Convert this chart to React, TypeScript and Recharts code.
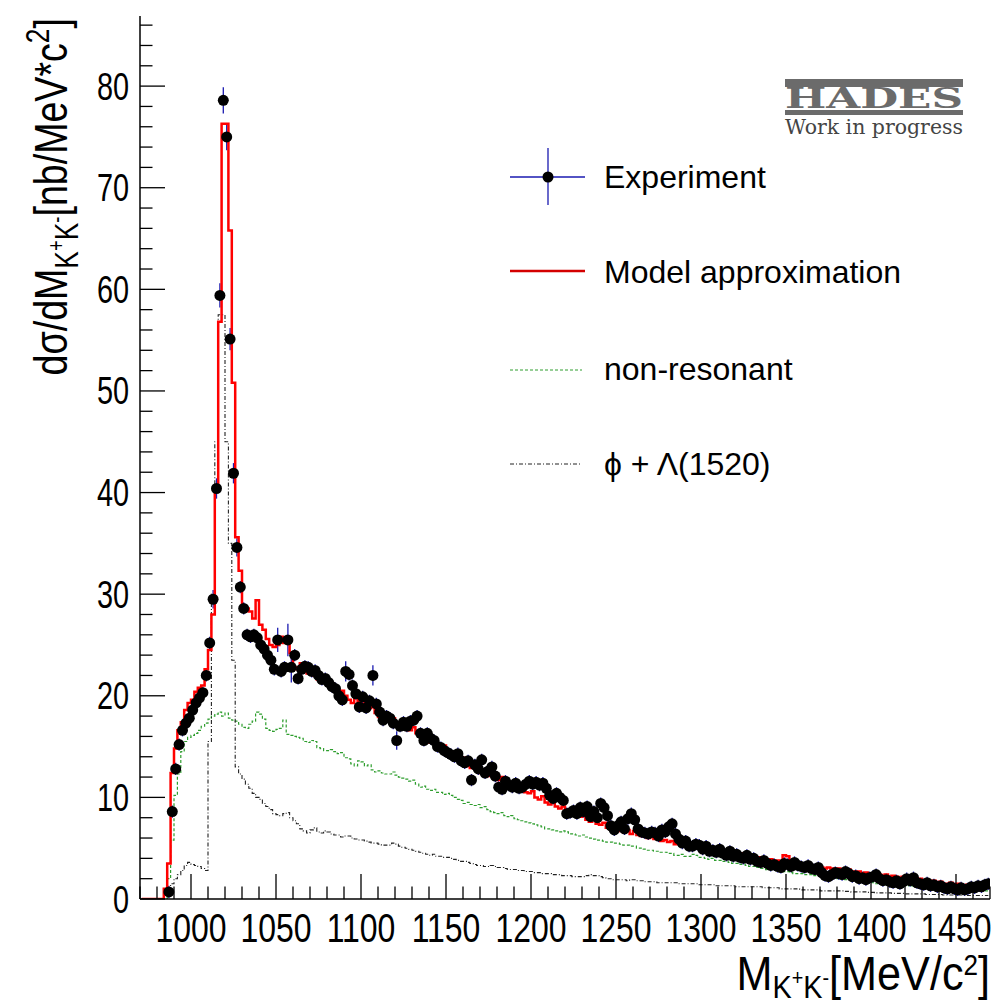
import React from 'react';
import { ComposedChart, Line, Scatter, XAxis, YAxis, ErrorBar } from 'recharts';

// Histogram binning: 2 MeV/c^2 bins from 970 to 1470
const BIN_LOW = 970;
const BIN_WIDTH = 2;

// Model approximation (red), bin centres 971, 973, ... 1469 (5 bins per row)
const modelValues = [
  0, 0, 0, 0, 0,
  0, 0, 1.0, 3.5, 12.4,
  14.8, 16.6, 17.4, 18.6, 19.3,
  19.6, 20.4, 20.8, 21.0, 22.6,
  24.5, 28.0, 40.2, 56.8, 76.3,
  76.3, 65.8, 50.8, 35.6, 32.3,
  28.9, 28.6, 28.3, 27.6, 29.4,
  27.0, 26.5, 25.6, 25.0, 24.8,
  25.0, 25.8, 25.2, 25.7, 24.2,
  22.8, 22.6, 23.2, 22.4, 22.2,
  22.8, 22.0, 21.6, 21.9, 21.3,
  21.0, 21.2, 20.6, 20.2, 20.5,
  20.0, 19.6, 19.3, 19.8, 19.4,
  19.0, 19.3, 18.8, 18.9, 18.3,
  17.9, 18.2, 17.8, 17.5, 17.8,
  17.4, 17.2, 17.5, 16.9, 16.6,
  16.9, 16.3, 16.0, 16.3, 15.7,
  15.4, 15.6, 15.0, 14.8, 15.1,
  14.5, 14.2, 14.5, 13.9, 13.6,
  13.9, 13.1, 12.9, 13.3, 12.6,
  12.4, 12.7, 12.1, 12.3, 11.8,
  11.7, 12.0, 11.3, 11.1, 11.5,
  11.0, 10.8, 11.1, 10.5, 10.4,
  10.6, 10.0, 9.8, 10.1, 9.5,
  9.3, 9.6, 9.1, 8.9, 9.1,
  8.7, 8.5, 8.7, 8.3, 8.1,
  8.3, 7.8, 7.6, 7.9, 7.4,
  7.3, 7.5, 7.0, 6.9, 7.1,
  6.7, 6.9, 6.6, 6.8, 6.4,
  6.7, 6.3, 6.2, 6.4, 6.0,
  6.1, 5.9, 6.0, 5.7, 5.8,
  5.6, 5.7, 5.4, 5.5, 5.6,
  5.3, 5.2, 5.4, 5.1, 5.0,
  5.2, 4.9, 4.8, 5.0, 4.7,
  4.6, 4.8, 4.5, 4.6, 4.4,
  4.3, 4.5, 4.2, 4.2, 4.3,
  4.0, 3.9, 4.1, 3.8, 3.8,
  3.9, 3.7, 3.8, 3.7, 4.3,
  4.2, 3.6, 3.5, 3.6, 3.4,
  3.3, 3.4, 3.2, 3.2, 3.3,
  3.1, 3.0, 3.1, 3.0, 2.9,
  3.0, 2.9, 2.8, 2.9, 2.7,
  2.6, 2.7, 2.5, 2.6, 2.5,
  2.4, 2.5, 2.4, 2.3, 2.4,
  2.2, 2.3, 2.2, 2.1, 2.2,
  2.0, 2.1, 2.0, 1.9, 2.0,
  1.8, 1.8, 1.7, 1.8, 1.6,
  1.7, 1.5, 1.5, 1.6, 1.4,
  1.5, 1.4, 1.3, 1.4, 1.3,
  1.2, 1.5, 1.2, 1.2, 1.1,
];

// non-resonant (green dashed)
const nonResonantValues = [
  0, 0, 0, 0, 0,
  0, 0, 0, 2.0, 5.8,
  10.2, 12.3, 14.5, 15.5, 15.9,
  16.1, 16.3, 16.6, 17.0, 17.3,
  17.7, 18.0, 18.2, 18.4, 18.0,
  18.3, 17.8, 17.6, 17.5, 17.2,
  16.9, 16.8, 17.2, 17.5, 18.4,
  18.2, 17.7, 16.8, 16.6, 16.5,
  16.7, 16.8, 17.6, 16.2, 16.1,
  16.0, 15.9, 15.8, 15.5, 15.4,
  15.6, 15.5, 14.9, 14.8, 14.6,
  14.6, 14.7, 14.5, 14.3, 14.4,
  13.9, 13.8, 13.3, 13.1, 13.6,
  13.5, 13.1, 13.2, 12.7, 12.5,
  12.6, 12.4, 12.3, 12.3, 12.5,
  12.2, 12.0, 11.9, 11.8, 11.6,
  11.7, 11.3, 11.0, 11.1, 10.8,
  10.7, 10.8, 10.5, 10.5, 10.3,
  10.4, 10.2, 10.0, 9.8, 9.7,
  9.4, 9.5, 9.3, 9.2, 9.3,
  9.0, 9.1, 8.8, 8.6, 8.5,
  8.4, 8.5, 8.2, 8.1, 8.2,
  7.9, 7.8, 7.7, 7.6, 7.5,
  7.4, 7.3, 7.2, 7.1, 6.9,
  6.9, 6.8, 6.7, 6.6, 6.7,
  6.6, 6.4, 6.4, 6.3, 6.2,
  6.3, 6.1, 6.0, 5.9, 5.8,
  5.8, 5.7, 5.6, 5.6, 5.5,
  5.5, 5.4, 5.3, 5.3, 5.2,
  5.2, 5.0, 5.0, 4.9, 4.8,
  4.8, 4.7, 4.7, 4.6, 4.6,
  4.5, 4.5, 4.3, 4.3, 4.4,
  4.2, 4.2, 4.4, 4.3, 4.1,
  4.1, 4.0, 3.9, 4.0, 3.8,
  3.8, 3.7, 3.7, 3.6, 3.5,
  3.5, 3.4, 3.4, 3.3, 3.2,
  3.2, 3.1, 3.0, 3.0, 2.9,
  2.9, 2.9, 2.8, 2.8, 2.7,
  2.7, 2.6, 2.5, 2.5, 2.5,
  2.4, 2.4, 2.4, 2.3, 2.3,
  2.2, 2.2, 2.2, 2.1, 2.1,
  2.0, 2.0, 1.9, 1.9, 1.8,
  1.8, 1.8, 1.7, 1.7, 1.6,
  1.6, 1.5, 1.5, 1.5, 1.4,
  1.4, 1.4, 1.4, 1.3, 1.3,
  1.3, 1.4, 1.3, 1.2, 1.2,
  1.2, 1.1, 1.2, 1.1, 1.1,
  1.0, 1.0, 1.0, 0.9, 0.9,
  0.9, 0.9, 0.8, 0.9, 0.8,
  0.8, 0.9, 0.8, 0.8, 0.8,
];

// phi + Lambda(1520) (black dash-dot)
const phiLambdaValues = [
  0, 0, 0, 0, 0,
  0, 0, 0.4, 1.0, 1.5,
  2.0, 2.4, 2.8, 3.3, 3.6,
  3.4, 3.3, 3.2, 3.0, 2.8,
  15.5, 30.0, 45.0, 57.5, 57.5,
  45.0, 35.0, 23.5, 13.0, 12.3,
  11.8, 11.3, 10.9, 10.4, 10.0,
  9.8, 9.4, 9.1, 8.8, 8.4,
  8.3, 8.2, 8.4, 8.5, 8.0,
  7.7, 7.4, 6.9, 6.7, 6.5,
  6.8, 7.0, 6.6, 6.5, 6.7,
  6.6, 6.4, 6.3, 6.3, 6.1,
  6.2, 6.2, 6.0, 5.9, 5.8,
  5.8, 5.7, 5.6, 5.5, 5.5,
  5.4, 5.3, 5.3, 5.3, 5.5,
  5.4, 5.2, 5.1, 5.0, 4.9,
  4.8, 4.7, 4.6, 4.5, 4.4,
  4.3, 4.4, 4.2, 4.2, 4.1,
  4.1, 4.0, 3.9, 3.8, 3.7,
  3.7, 3.6, 3.5, 3.4, 3.3,
  3.3, 3.2, 3.2, 3.3, 3.2,
  3.1, 3.1, 3.0, 2.9, 2.9,
  2.9, 2.8, 2.8, 2.7, 2.7,
  2.7, 2.6, 2.6, 2.5, 2.5,
  2.5, 2.4, 2.4, 2.4, 2.3,
  2.3, 2.3, 2.2, 2.2, 2.2,
  2.2, 2.3, 2.4, 2.3, 2.3,
  2.2, 2.1, 2.0, 2.0, 1.9,
  1.9, 1.9, 1.9, 1.8, 1.9,
  1.9, 1.8, 1.8, 1.7, 1.7,
  1.7, 1.7, 1.6, 1.6, 1.6,
  1.6, 1.6, 1.6, 1.5, 1.5,
  1.5, 1.5, 1.5, 1.5, 1.4,
  1.4, 1.4, 1.4, 1.4, 1.3,
  1.3, 1.3, 1.3, 1.3, 1.3,
  1.2, 1.2, 1.2, 1.2, 1.2,
  1.2, 1.2, 1.2, 1.1, 1.1,
  1.1, 1.1, 1.1, 1.0, 1.0,
  1.0, 1.0, 1.0, 1.0, 0.9,
  0.9, 0.9, 0.9, 0.9, 0.9,
  0.8, 0.8, 0.8, 0.8, 0.8,
  0.8, 0.8, 0.75, 0.75, 0.7,
  0.7, 0.7, 0.7, 0.7, 0.65,
  0.65, 0.6, 0.6, 0.6, 0.6,
  0.6, 0.55, 0.55, 0.55, 0.55,
  0.5, 0.5, 0.5, 0.5, 0.5,
  0.5, 0.45, 0.45, 0.45, 0.45,
  0.45, 0.4, 0.4, 0.4, 0.4,
  0.4, 0.4, 0.4, 0.35, 0.35,
  0.35, 0.35, 0.35, 0.35, 0.35,
];

// Experiment (black points); null = no point drawn
const experimentValues: (number | null)[] = [
  null, null, null, null, null,
  null, null, null, 0.7, 8.6,
  12.8, 15.2, 16.6, 17.3, 17.8,
  18.6, 19.3, 19.8, 20.3, 22.0,
  25.2, 29.5, 40.4, 59.4, 78.6,
  75.0, 55.1, 41.9, 34.6, 30.7,
  28.6, 26.0, 25.8, 26.0, 25.7,
  25.0, 24.6, 24.0, 23.5, 22.6,
  25.5, 22.4, 22.8, 25.5, 22.8,
  24.0, 21.7, 22.6, 22.9, 22.8,
  22.4, 22.5, 22.0, 21.6, 21.7,
  21.3, 20.9, 20.7, 20.0, 19.6,
  22.4, 22.1, 21.0, 20.2, 18.9,
  19.9, 18.8, 19.5, 22.0, 19.2,
  18.4, 17.6, 18.0, 17.8, 17.3,
  15.6, 17.0, 17.4, 17.0, 17.5,
  17.6, 18.0, 16.3, 15.6, 16.3,
  15.8, 15.6, 15.0, 14.9, 14.6,
  14.4, 14.2, 14.0, 14.3, 13.6,
  13.4, 13.6, 11.7, 13.2, 12.8,
  13.7, 12.4, 12.6, 13.0, 12.1,
  11.0, 10.8, 11.6, 11.2, 11.0,
  11.4, 10.9, 11.0, 11.3, 11.6,
  11.3, 11.5, 11.2, 11.4, 10.9,
  10.2, 9.9, 10.4, 10.0, 9.7,
  8.4, 8.5, 8.7, 8.4, 9.0,
  8.6, 9.1, 8.1, 8.6, 8.0,
  9.4, 9.0, 8.2, 7.2, 6.8,
  7.2, 7.6, 6.9, 7.9, 8.4,
  7.8, 6.9, 6.6, 6.5, 6.4,
  6.6, 6.5, 6.2, 6.8, 6.6,
  7.1, 7.4, 6.4, 5.9, 5.5,
  5.7, 5.2, 5.2, 5.4, 5.3,
  4.9, 5.2, 4.7, 4.8, 4.6,
  4.9, 4.5, 4.3, 4.7, 4.2,
  4.4, 4.1, 4.0, 4.3, 3.9,
  4.0, 3.7, 3.6, 3.8, 3.5,
  3.3, 3.4, 3.2, 3.1, 3.5,
  3.4, 3.2, 3.6, 3.3, 3.2,
  3.1, 3.3, 3.0, 2.9, 3.1,
  2.6, 2.3, 2.2, 2.4, 2.6,
  2.5, 2.4, 2.7, 2.5, 2.2,
  2.3, 2.0, 2.1, 1.9, 2.1,
  2.2, 2.4, 2.0, 1.8, 1.9,
  1.7, 1.6, 1.8, 1.5, 1.7,
  2.0, 1.8, 2.1, 1.6, 1.5,
  1.4, 1.6, 1.3, 1.4, 1.2,
  1.3, 1.1, 1.0, 1.2, 1.0,
  0.9, 1.1, 0.9, 1.0, 1.2,
  1.1, 1.3, 1.2, 1.4, 1.5,
];

// statistical errors of the larger points (by bin centre); others use the typical error
const experimentErrors: Record<number, number> = {
  1013: 0.9, 1015: 1.0, 1017: 1.2, 1019: 1.3, 1021: 1.3, 1023: 1.1, 1025: 1.0,
  1027: 0.9, 1051: 1.2, 1057: 1.6, 1059: 1.5, 1091: 1.0, 1107: 1.0, 1121: 0.9,
};
const TYPICAL_ERROR = 0.6;

const xTicks = [970, 980, 990, 1000, 1010, 1020, 1030, 1040, 1050, 1060, 1070, 1080, 1090, 1100, 1110, 1120, 1130, 1140, 1150, 1160, 1170, 1180, 1190, 1200, 1210, 1220, 1230, 1240, 1250, 1260, 1270, 1280, 1290, 1300, 1310, 1320, 1330, 1340, 1350, 1360, 1370, 1380, 1390, 1400, 1410, 1420, 1430, 1440, 1450, 1460, 1470];
const yTicks = [0, 2, 4, 6, 8, 10, 12, 14, 16, 18, 20, 22, 24, 26, 28, 30, 32, 34, 36, 38, 40, 42, 44, 46, 48, 50, 52, 54, 56, 58, 60, 62, 64, 66, 68, 70, 72, 74, 76, 78, 80, 82, 84, 86];
const X_DOMAIN: [number, number] = [970, 1470];
const Y_DOMAIN: [number, number] = [0, 86.9];

const rows = modelValues.map((m, i) => ({
  x: BIN_LOW + BIN_WIDTH * (i + 0.5),
  model: m,
  nonres: nonResonantValues[i],
  phi: phiLambdaValues[i],
}));

const expRows = experimentValues
  .map((v, i) => {
    const x = BIN_LOW + BIN_WIDTH * (i + 0.5);
    return { x, exp: v, err: experimentErrors[x] ?? TYPICAL_ERROR };
  })
  .filter((r) => r.exp !== null);

const FONT = "'Liberation Sans', Arial, Helvetica, sans-serif";
const TICK_W = 1.3;

const BottomTick = (props: any) => {
  const { x, y, payload } = props;
  const v = payload.value;
  const major = v % 50 === 0;
  return (
    <g>
      <line x1={x} x2={x} y1={y} y2={y - (major ? 25 : 12.5)} stroke="#000" strokeWidth={TICK_W} />
      {major && (
        <text
          transform={`translate(${x},${y + 43}) scale(0.78,1)`}
          textAnchor="middle"
          fontSize={41}
          fontFamily={FONT}
          fill="#000"
        >
          {v}
        </text>
      )}
    </g>
  );
};

const TopTick = (props: any) => {
  const { x, y, payload } = props;
  const major = payload.value % 50 === 0;
  return <line x1={x} x2={x} y1={y} y2={y + (major ? 25 : 12.5)} stroke="#000" strokeWidth={TICK_W} />;
};

const LeftTick = (props: any) => {
  const { x, y, payload } = props;
  const v = payload.value;
  const major = v % 10 === 0;
  return (
    <g>
      <line x1={x} x2={x + (major ? 25 : 12.5)} y1={y} y2={y} stroke="#000" strokeWidth={TICK_W} />
      {major && (
        <text
          transform={`translate(${x - 11},${y + 13.5}) scale(0.76,1)`}
          textAnchor="end"
          fontSize={38}
          fontFamily={FONT}
          fill="#000"
        >
          {v}
        </text>
      )}
    </g>
  );
};

const RightTick = (props: any) => {
  const { x, y, payload } = props;
  const major = payload.value % 10 === 0;
  return <line x1={x} x2={x - (major ? 25 : 12.5)} y1={y} y2={y} stroke="#000" strokeWidth={TICK_W} />;
};

const ExpDot = (p: any) => <circle cx={p.cx} cy={p.cy} r={5.5} fill="#000" />;

const axisLine = { stroke: '#000', strokeWidth: 1.5 };

function Overlay() {
  return (
    <svg
      width={1004}
      height={1006}
      style={{ position: 'absolute', left: 0, top: 0, pointerEvents: 'none' }}
      fontFamily={FONT}
    >
      {/* Y axis title */}
      <text transform="translate(67,18) rotate(-90) scale(0.8,1)" textAnchor="end" fontSize={47} fill="#000">
        dσ/dM
        <tspan dy={11} fontSize={33}>K</tspan>
        <tspan dy={-14} fontSize={23}>+</tspan>
        <tspan dy={14} fontSize={33}>K</tspan>
        <tspan dy={-14} fontSize={23}>-</tspan>
        <tspan dy={3} fontSize={47}>[nb/MeV*c</tspan>
        <tspan dy={-18} fontSize={33}>2</tspan>
        <tspan dy={18} fontSize={47}>]</tspan>
      </text>
      {/* X axis title */}
      <text transform="translate(990,990) scale(0.9,1)" textAnchor="end" fontSize={48} fill="#000">
        M
        <tspan dy={8} fontSize={32}>K</tspan>
        <tspan dy={-13} fontSize={22}>+</tspan>
        <tspan dy={13} fontSize={32}>K</tspan>
        <tspan dy={-13} fontSize={22}>-</tspan>
        <tspan dy={5} fontSize={48}>[MeV/c</tspan>
        <tspan dy={-15} fontSize={29}>2</tspan>
        <tspan dy={15} fontSize={48}>]</tspan>
      </text>

      {/* HADES logo */}
      <rect x={785} y={79} width={178} height={8} fill="#6b6b6b" />
      <text
        x={785}
        y={108}
        fontSize={27}
        fontWeight={900}
        fontFamily="'DejaVu Serif', serif"
        fill="#6b6b6b"
        textLength={178}
        lengthAdjust="spacingAndGlyphs"
      >
        HADES
      </text>
      <rect x={785} y={110} width={178} height={5} fill="#6b6b6b" />
      <text
        x={785}
        y={134}
        fontSize={21}
        fontFamily="'DejaVu Serif', serif"
        fill="#444"
        textLength={178}
        lengthAdjust="spacingAndGlyphs"
      >
        Work in progress
      </text>

      {/* Legend */}
      <line x1={510} x2={585} y1={177} y2={177} stroke="#1a1ab0" strokeWidth={1.3} />
      <line x1={548} x2={548} y1={148} y2={205} stroke="#1a1ab0" strokeWidth={1.3} />
      <circle cx={548} cy={177} r={5.5} fill="#000" />
      <text x={604} y={188} fontSize={32} fill="#000">Experiment</text>

      <line x1={510} x2={585} y1={271} y2={271} stroke="#d40000" strokeWidth={2.5} />
      <text x={604} y={283} fontSize={32} fill="#000">Model approximation</text>

      <line x1={510} x2={582} y1={370} y2={370} stroke="#2e9e2e" strokeWidth={1} strokeDasharray="3 2" />
      <text x={604} y={380} fontSize={32} fill="#000">non-resonant</text>

      <line x1={510} x2={582} y1={464} y2={464} stroke="#222" strokeWidth={1} strokeDasharray="4 2 1 2" />
      <text x={604} y={475} fontSize={32} fill="#000">ϕ + Λ(1520)</text>
    </svg>
  );
}

export default function App() {
  return (
    <div style={{ position: 'absolute', left: 0, top: 0, width: 1004, height: 1006, background: '#fff' }}>
      <ComposedChart
        width={1004}
        height={1006}
        data={rows}
        margin={{ top: 16, right: 14, bottom: 47, left: 0 }}
      >
        <XAxis
          xAxisId="main"
          type="number"
          dataKey="x"
          domain={X_DOMAIN}
          allowDataOverflow
          ticks={xTicks}
          interval={0}
          tickSize={0}
          tickMargin={0}
          tickLine={false}
          tick={<BottomTick />}
          axisLine={axisLine}
          height={60}
        />
        <XAxis
          xAxisId="top"
          orientation="top"
          type="number"
          dataKey="x"
          domain={X_DOMAIN}
          allowDataOverflow
          ticks={xTicks}
          interval={0}
          tickSize={0}
          tickMargin={0}
          tickLine={false}
          tick={<TopTick />}
          axisLine={axisLine}
          height={0}
        />
        <YAxis
          yAxisId="main"
          type="number"
          domain={Y_DOMAIN}
          allowDataOverflow
          ticks={yTicks}
          interval={0}
          tickSize={0}
          tickMargin={0}
          tickLine={false}
          tick={<LeftTick />}
          axisLine={axisLine}
          width={140}
        />
        <YAxis
          yAxisId="right"
          orientation="right"
          type="number"
          domain={Y_DOMAIN}
          allowDataOverflow
          ticks={yTicks}
          interval={0}
          tickSize={0}
          tickMargin={0}
          tickLine={false}
          tick={<RightTick />}
          axisLine={axisLine}
          width={0}
        />
        <Scatter
          xAxisId="main"
          yAxisId="main"
          data={expRows}
          dataKey="exp"
          shape={<ExpDot />}
          isAnimationActive={false}
        >
          <ErrorBar dataKey="err" direction="y" width={0} stroke="#1a1ab0" strokeWidth={1.3} />
        </Scatter>
        <Line
          xAxisId="main"
          yAxisId="main"
          type="step"
          dataKey="nonres"
          stroke="#2e9e2e"
          strokeWidth={1.2}
          strokeDasharray="3 2"
          dot={false}
          activeDot={false}
          isAnimationActive={false}
        />
        <Line
          xAxisId="main"
          yAxisId="main"
          type="step"
          dataKey="phi"
          stroke="#222"
          strokeWidth={1.1}
          strokeDasharray="4 2 1 2"
          dot={false}
          activeDot={false}
          isAnimationActive={false}
        />
        <Line
          xAxisId="main"
          yAxisId="main"
          type="step"
          dataKey="model"
          stroke="#ff0000"
          strokeWidth={2.5}
          dot={false}
          activeDot={false}
          isAnimationActive={false}
        />
      </ComposedChart>
      <Overlay />
    </div>
  );
}
